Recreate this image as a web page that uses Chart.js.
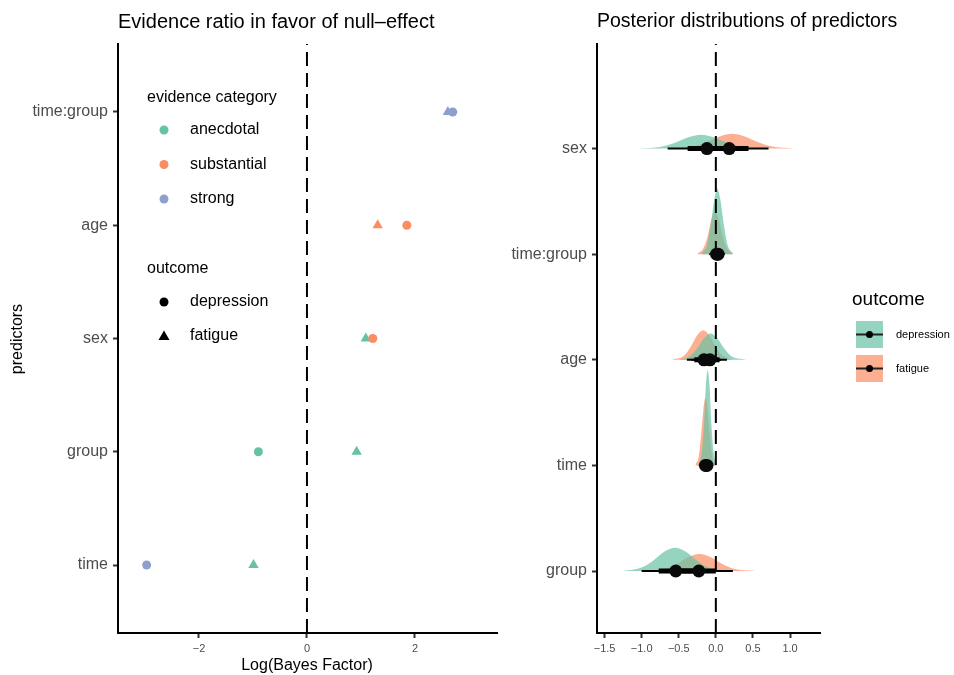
<!DOCTYPE html>
<html>
<head>
<meta charset="utf-8">
<script src="https://cdn.jsdelivr.net/npm/chart.js@4.4.0/dist/chart.umd.min.js"></script>
<style>
  body { margin: 0; background: #fff; }
  #wrap { position: relative; width: 954px; height: 675px; }
  canvas { position: absolute; top: 0; }
  #left { left: 0; }
  #right { left: 510px; }
</style>
</head>
<body>
<div id="wrap">
  <canvas id="left" width="510" height="675"></canvas>
  <canvas id="right" width="444" height="675"></canvas>
</div>
<script>
// ---- left panel: log Bayes factors (bottom to top)
const leftPredictors = ["time", "group", "sex", "age", "time:group"];
const bfDepression = [-2.97, -0.90, 1.22, 1.85, 2.70];
const bfFatigue = [-0.99, 0.92, 1.09, 1.31, 2.61];
const catDepression = ["strong", "anecdotal", "substantial", "substantial", "strong"];
const catFatigue = ["anecdotal", "anecdotal", "anecdotal", "substantial", "strong"];
const categories = ["anecdotal", "substantial", "strong"];
const categoryColors = ["#66C2A5", "#FC8D62", "#8DA0CB"];
const leftTicks = [-2, 0, 2];

// ---- right panel: posterior distributions (bottom to top)
const rightPredictors = ["group", "time", "age", "time:group", "sex"];
const depMedian = [-0.54, -0.12, -0.08, 0.03, -0.12];
const fatMedian = [-0.23, -0.14, -0.16, 0.01, 0.18];
const depInner = [[-0.77, -0.31], [-0.16, -0.08], [-0.21, 0.05], [-0.03, 0.08], [-0.38, 0.14]];
const fatInner = [[-0.46, 0.00], [-0.18, -0.10], [-0.29, -0.03], [-0.06, 0.07], [-0.08, 0.44]];
const depOuter = [[-1.00, -0.08], [-0.20, -0.04], [-0.33, 0.15], [-0.07, 0.12], [-0.65, 0.41]];
const fatOuter = [[-0.69, 0.23], [-0.23, -0.05], [-0.39, 0.07], [-0.09, 0.10], [-0.35, 0.71]];
// density outlines: x positions and heights (in category units)
const depDensX = [
  [-1.24, -1.01, -0.85, -0.69, -0.55, -0.41, -0.25, -0.09, 0.14],
  [-0.23, -0.19, -0.16, -0.135, -0.11, -0.085, -0.06, -0.03, 0.01],
  [-0.49, -0.35, -0.25, -0.15, -0.07, 0.01, 0.11, 0.21, 0.40],
  [-0.19, -0.12, -0.07, -0.02, 0.02, 0.06, 0.11, 0.16, 0.23],
  [-1.05, -0.74, -0.55, -0.36, -0.20, -0.04, 0.15, 0.34, 0.61]
];
const depDensH = [
  [0.002, 0.03, 0.095, 0.184, 0.22, 0.184, 0.095, 0.03, 0.002],
  [0.01, 0.12, 0.39, 0.75, 0.9, 0.75, 0.39, 0.12, 0.01],
  [0.003, 0.034, 0.11, 0.21, 0.25, 0.21, 0.11, 0.034, 0.003],
  [0.007, 0.084, 0.27, 0.52, 0.62, 0.52, 0.27, 0.084, 0.007],
  [0.001, 0.018, 0.056, 0.109, 0.13, 0.109, 0.056, 0.018, 0.001]
];
const fatDensX = [
  [-0.91, -0.68, -0.52, -0.36, -0.22, -0.08, 0.08, 0.24, 0.52],
  [-0.275, -0.23, -0.20, -0.167, -0.14, -0.113, -0.08, -0.05, -0.005],
  [-0.58, -0.43, -0.34, -0.25, -0.17, -0.09, 0.0, 0.09, 0.22],
  [-0.25, -0.17, -0.11, -0.06, -0.01, 0.04, 0.09, 0.15, 0.23],
  [-0.59, -0.32, -0.13, 0.06, 0.22, 0.38, 0.57, 0.76, 1.05]
];
const fatDensH = [
  [0.002, 0.022, 0.069, 0.134, 0.16, 0.134, 0.069, 0.022, 0.002],
  [0.007, 0.086, 0.275, 0.534, 0.64, 0.534, 0.275, 0.086, 0.007],
  [0.003, 0.038, 0.12, 0.234, 0.28, 0.234, 0.12, 0.038, 0.003],
  [0.004, 0.054, 0.17, 0.33, 0.40, 0.33, 0.17, 0.054, 0.004],
  [0.001, 0.019, 0.06, 0.117, 0.14, 0.117, 0.06, 0.019, 0.001]
];
const rightTicks = [-1.5, -1.0, -0.5, 0.0, 0.5, 1.0];
const outcomes = ["depression", "fatigue"];
const slabColors = ["rgba(102,194,165,0.7)", "rgba(252,141,98,0.7)"];

const FONT = "'Liberation Sans', Arial, sans-serif";
Chart.defaults.font.family = FONT;
Chart.defaults.color = "#4d4d4d";

const colorOf = c => categoryColors[categories.indexOf(c)];
const minus = (v, d) => (v < 0 ? "\u2212" : "") + Math.abs(v).toFixed(d);

function axis(min, max, values, format, size, thickness, pad) {
    return {
        type: "linear", min: min, max: max,
        afterBuildTicks: s => { s.ticks = values.map(v => ({ value: v })); },
        afterFit: s => { if (s.isHorizontal()) s.height = thickness; else s.width = thickness; },
        ticks: { callback: format, color: "#4d4d4d", font: { size: size }, padding: pad, autoSkip: false, maxRotation: 0 },
        grid: { drawOnChartArea: false, tickLength: 5, tickWidth: 2, tickColor: "#333" },
        border: { color: "#000", width: 2 }
    };
}

function dot(ctx, x, y, r, color) {
    ctx.fillStyle = color;
    ctx.beginPath();
    ctx.arc(x, y, r, 0, Math.PI * 2);
    ctx.fill();
}

// titles, axis titles and legend for the left panel
const leftDecor = {
    id: "leftDecor",
    afterDraw(chart) {
        const ctx = chart.ctx;
        ctx.save();
        ctx.textBaseline = "middle";
        ctx.fillStyle = "#000";
        ctx.font = "20px " + FONT;
        ctx.textAlign = "left";
        ctx.fillText("Evidence ratio in favor of null\u2013effect", 118, 22);

        ctx.font = "16px " + FONT;
        ctx.textAlign = "center";
        ctx.fillText("Log(Bayes Factor)", 307, 666);
        ctx.save();
        ctx.translate(18, 339);
        ctx.rotate(-Math.PI / 2);
        ctx.fillText("predictors", 0, 0);
        ctx.restore();

        ctx.textAlign = "left";
        ctx.fillText("evidence category", 147, 98);
        categories.forEach((c, i) => {
            const y = 130 + i * 34.5;
            dot(ctx, 164, y, 4.5, categoryColors[i]);
            ctx.fillStyle = "#000";
            ctx.fillText(c, 190, y);
        });
        ctx.fillText("outcome", 147, 269);
        dot(ctx, 164, 302, 4.5, "#000");
        ctx.fillText(outcomes[0], 190, 302);
        ctx.beginPath();
        ctx.moveTo(164, 330.5);
        ctx.lineTo(169.5, 340);
        ctx.lineTo(158.5, 340);
        ctx.closePath();
        ctx.fill();
        ctx.fillText(outcomes[1], 190, 336);
        ctx.restore();
    }
};

new Chart(document.getElementById("left"), {
    type: "scatter",
    data: {
        datasets: [
            {
                label: "depression",
                data: leftPredictors.map((p, i) => ({ x: bfDepression[i], y: i + 1 })),
                pointStyle: "circle", pointRadius: 4.5, pointHoverRadius: 4.5,
                backgroundColor: catDepression.map(colorOf), borderWidth: 0, order: 0
            },
            {
                label: "fatigue",
                data: leftPredictors.map((p, i) => ({ x: bfFatigue[i], y: i + 1 })),
                pointStyle: "triangle", pointRadius: 6, pointHoverRadius: 6,
                backgroundColor: catFatigue.map(colorOf), borderWidth: 0, order: 1
            },
            {
                type: "line", label: "null",
                data: [{ x: 0, y: 0.4 }, { x: 0, y: 5.6 }],
                borderColor: "#000", borderWidth: 2, borderDash: [14, 7], pointRadius: 0, order: 2
            }
        ]
    },
    options: {
        responsive: false, animation: false, devicePixelRatio: 1, events: [],
        layout: { padding: { top: 44, right: 13, left: 0, bottom: 0 } },
        plugins: { legend: { display: false }, tooltip: { enabled: false } },
        scales: {
            x: axis(-3.5, 3.52, leftTicks, v => minus(v, 0), 11, 42, 4),
            y: axis(0.4, 5.6, [1, 2, 3, 4, 5], v => leftPredictors[v - 1], 16, 118, 5)
        }
    },
    plugins: [leftDecor]
});

// ---- right panel datasets
const rightDatasets = [];
rightPredictors.forEach((p, i) => {
    const base = i + 1;
    [[depDensX, depDensH, 4], [fatDensX, fatDensH, 5]].forEach(([xs, hs, ord], k) => {
        rightDatasets.push({
            type: "line", label: p + " " + outcomes[k],
            data: xs[i].map((x, j) => ({ x: x, y: base + hs[i][j] })),
            fill: { value: base }, backgroundColor: slabColors[k],
            borderColor: "rgba(0,0,0,0)", borderWidth: 0, pointRadius: 0,
            cubicInterpolationMode: "monotone", order: ord
        });
    });
    [[depOuter, 2, 2], [fatOuter, 2, 2], [depInner, 5, 1], [fatInner, 5, 1]].forEach(([iv, w, ord]) => {
        rightDatasets.push({
            type: "line", label: p + " interval",
            data: [{ x: iv[i][0], y: base }, { x: iv[i][1], y: base }],
            borderColor: "#000", borderWidth: w, borderCapStyle: "butt", pointRadius: 0, order: ord
        });
    });
});
rightDatasets.push({
    type: "line", label: "zero",
    data: [{ x: 0, y: 0.413 }, { x: 0, y: 5.99 }],
    borderColor: "#000", borderWidth: 2, borderDash: [14, 7], pointRadius: 0, order: 3
});
rightDatasets.push({
    label: "median",
    data: rightPredictors.flatMap((p, i) => [{ x: depMedian[i], y: i + 1 }, { x: fatMedian[i], y: i + 1 }]),
    pointRadius: 6.5, pointHoverRadius: 6.5, backgroundColor: "#0a0a0a", borderWidth: 0, order: 0
});

const rightDecor = {
    id: "rightDecor",
    afterDraw(chart) {
        const ctx = chart.ctx;
        ctx.save();
        ctx.textBaseline = "middle";
        ctx.textAlign = "left";
        ctx.fillStyle = "#000";
        ctx.font = "19.5px " + FONT;
        ctx.fillText("Posterior distributions of predictors", 87, 22);
        ctx.font = "19px " + FONT;
        ctx.fillText("outcome", 342, 300);
        ctx.font = "11px " + FONT;
        outcomes.forEach((o, k) => {
            const top = 321 + k * 34;
            ctx.fillStyle = slabColors[k];
            ctx.fillRect(346, top, 27, 27);
            ctx.strokeStyle = "#222";
            ctx.lineWidth = 2;
            ctx.beginPath();
            ctx.moveTo(346, top + 13.5);
            ctx.lineTo(373, top + 13.5);
            ctx.stroke();
            dot(ctx, 359.5, top + 13.5, 3.5, "#000");
            ctx.fillStyle = "#000";
            ctx.fillText(o, 386, top + 14);
        });
        ctx.restore();
    }
};

new Chart(document.getElementById("right"), {
    type: "scatter",
    data: { datasets: rightDatasets },
    options: {
        responsive: false, animation: false, devicePixelRatio: 1, events: [],
        layout: { padding: { top: 44, right: 134, left: 0, bottom: 0 } },
        plugins: { legend: { display: false }, tooltip: { enabled: false } },
        scales: {
            x: axis(-1.602, 1.404, rightTicks, v => minus(v, 1), 11, 42, 4),
            y: axis(0.413, 5.99, [1, 2, 3, 4, 5], v => rightPredictors[v - 1], 16, 87, 5)
        }
    },
    plugins: [rightDecor]
});
</script>
</body>
</html>
